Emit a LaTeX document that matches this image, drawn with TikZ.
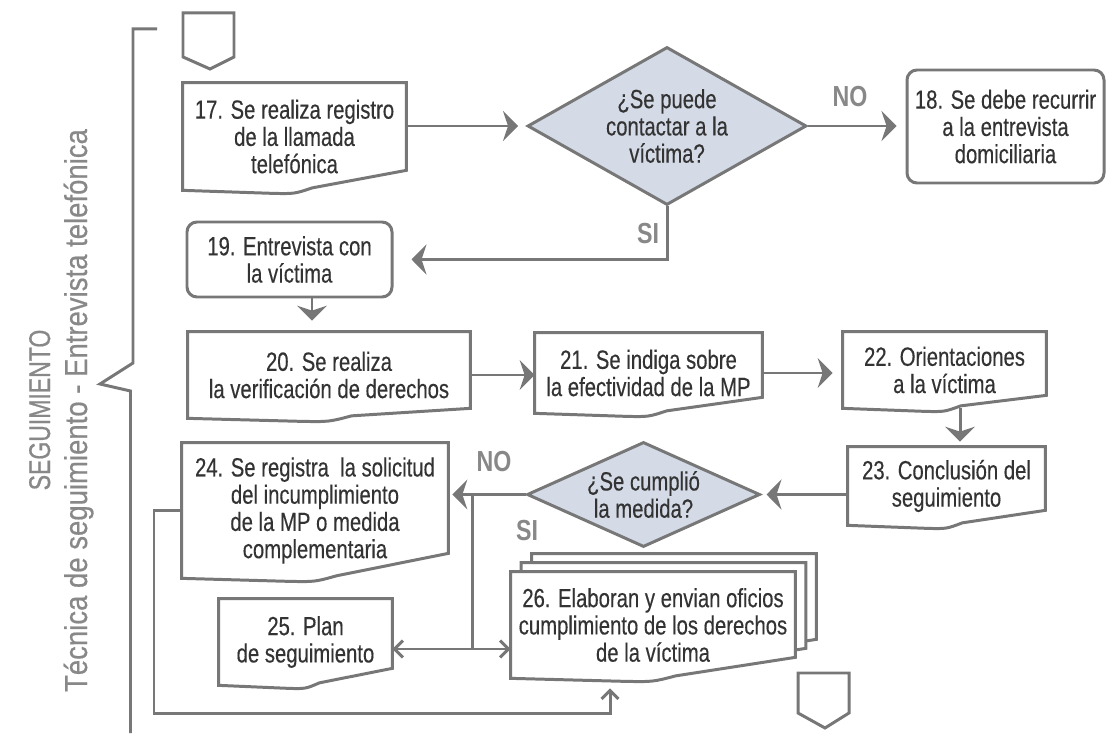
\documentclass[tikz,border=0pt]{standalone}
\usepackage{fontspec}
\setmainfont{Liberation Sans}[FakeStretch=0.77,FakeBold=0.3]
\newfontfamily\sidefont{Liberation Sans}[FakeStretch=0.87,FakeBold=0.5]
\newfontfamily\headfont{Liberation Sans}[FakeStretch=0.77,FakeBold=0.6]
\newfontfamily\markfont{Liberation Sans Bold}[FakeStretch=0.8]
\usetikzlibrary{shapes.geometric,arrows.meta,calc,backgrounds}
\definecolor{linegray}{HTML}{777777}
\definecolor{textgray}{HTML}{333333}
\definecolor{labelgray}{HTML}{888888}
\definecolor{diafill}{HTML}{D4DBE7}
\tikzset{
  boxline/.style={draw=linegray,line width=1.7pt},
  txt/.style={text=textgray,font=\fontsize{15}{15.5}\selectfont,align=center,inner sep=0pt},
  docbox/.style={txt},
  roundbox/.style={txt,boxline,rounded corners=0.2cm,fill=white},
  decision/.style={txt,boxline,shape=diamond,fill=diafill},
  side/.style={rotate=90,anchor=base,text=labelgray,inner sep=0pt},
  lbl/.style={text=labelgray,font={\markfont\fontsize{16.5}{16.5}\selectfont},inner sep=0pt},
  arr/.style={boxline,-{Stealth[length=0.3cm,width=0.6cm,inset=0.1cm]}},
  thinarr/.style={boxline,-{Straight Barb[length=0.17cm,width=0.34cm]}}
}
% document outline: node, rise of right corner, offset
\newcommand{\docshape}[3]{%
  \draw[boxline,fill=white] ($(#1.north west)+#3$) -- ($(#1.north east)+#3$)
    -- ($(#1.south east)+(0,#2)+#3$)
    -- ($(#1.south west)!0.58!(#1.south east)+(0,0.05)+#3$)
    .. controls ($(#1.south west)!0.5!(#1.south east)+(0,-0.07)+#3$) .. ($(#1.south west)!0.40!(#1.south east)+(0,-0.06)+#3$)
    -- ($(#1.south west)+#3$) -- cycle;}
\begin{document}
\begin{tikzpicture}
\useasboundingbox (0,0) rectangle (22.18,14.66);
% side titles and brace
\node[side,font={\headfont\fontsize{17}{17}\selectfont}] (sec) at (1.0,6.46) {SEGUIMIENTO};
\node[side,font={\sidefont\fontsize{18}{18}\selectfont}] (tec) at (1.74,6.45) {Técnica de seguimiento - Entrevista telefónica};
\draw[boxline] (3.14,14.08) -- (2.66,14.08) -- (2.66,7.40) -- (2.00,6.98) -- (2.61,6.84) -- (2.61,0);
% off-page connectors
\draw[boxline,fill=white] (3.66,14.40) -- (4.68,14.40) -- (4.68,13.52) -- (4.20,13.28) -- (3.66,13.52) -- cycle;
\draw[boxline,fill=white] (15.96,1.20) -- (16.98,1.20) -- (16.98,0.40) -- (16.50,0.10) -- (15.96,0.40) -- cycle;

\node[docbox,minimum width=4.46cm,minimum height=2.14cm] (b17) at (5.89,11.93) {17. Se realiza registro\\de la llamada\\telefónica};
\node[decision,minimum width=5.58cm,minimum height=3.16cm,aspect=1.77] (d1) at (13.34,12.14) {¿Se puede\\contactar a la\\víctima?};
\node[roundbox,minimum width=3.94cm,minimum height=2.26cm] (b18) at (20.11,12.13) {18. Se debe recurrir\\a la entrevista\\domiciliaria};
\node[roundbox,minimum width=4.10cm,minimum height=1.50cm] (b19) at (5.79,9.47) {19. Entrevista con\\la víctima};
\node[docbox,minimum width=5.64cm,minimum height=1.72cm] (b20) at (6.58,7.16) {20. Se realiza\\la verificación de derechos};
\node[docbox,minimum width=4.54cm,minimum height=1.60cm] (b21) at (12.97,7.20) {21. Se indiga sobre\\la efectividad de la MP};
\node[docbox,minimum width=4.06cm,minimum height=1.52cm] (b22) at (18.89,7.26) {22. Orientaciones\\a la víctima};
\node[docbox,minimum width=3.94cm,minimum height=1.56cm] (b23) at (18.93,4.94) {23. Conclusión del\\seguimiento};
\node[decision,minimum width=4.66cm,minimum height=2.10cm,aspect=2.22] (d2) at (12.87,4.77) {¿Se cumplió\\la medida?};
\node[docbox,minimum width=5.32cm,minimum height=2.70cm] (b24) at (6.30,4.45) {24. Se registra~ la solicitud\\del incumplimiento\\de la MP o medida\\complementaria};
\node[docbox,minimum width=3.46cm,minimum height=1.72cm] (b25) at (6.11,1.82) {25. Plan\\de seguimiento};
\node[docbox,minimum width=5.68cm,minimum height=2.12cm] (b26) at (13.06,2.16) {26. Elaboran y envian oficios\\cumplimiento de los derechos\\de la víctima};

\begin{scope}[on background layer]
\docshape{b17}{0.40}{(0,0)}
\docshape{b20}{0.20}{(0,0)}
\docshape{b21}{0.32}{(0,0)}
\docshape{b22}{0.26}{(0,0)}
\docshape{b23}{0.30}{(0,0)}
\docshape{b24}{0.50}{(0,0)}
\docshape{b25}{0.34}{(0,0)}
\docshape{b26}{0.42}{(0.42,0.36)} % stacked sheets
\docshape{b26}{0.42}{(0.21,0.18)}
\docshape{b26}{0.42}{(0,0)}
\end{scope}

\node[lbl] (no1) at (17.0,12.72) {NO};
\node[lbl] (si1) at (12.96,9.98) {SI};
\node[lbl] (no2) at (9.88,5.42) {NO};
\node[lbl] (si2) at (10.54,4.04) {SI};

\coordinate (j1) at (9.44,4.77);
\coordinate (j2) at (9.44,1.68);
\coordinate (c1) at (3.08,0.40);

\draw[arr,shorten >=0.16cm] (b17.east |- d1.west) -- (d1.west);
\draw[arr,shorten >=0.18cm] (d1.east) -- (d1.east -| b18.west);
\draw[arr,shorten >=0.36cm] (d1.south) |- (b19.east);
\draw[arr,shorten >=0.22cm] ([xshift=0.45cm]b19.south) -- ([xshift=0.45cm]b19.south |- b20.north);
\draw[arr] (b20.east) -- (b20.east -| b21.west);
\draw[arr,shorten >=0.2cm] (b21.east) -- (b21.east -| b22.west);
\draw[arr,shorten >=0.1cm] ([xshift=0.31cm]b22.south) -- ([xshift=0.31cm]b22.south |- b23.north);
\draw[arr,shorten >=0.1cm] (b23.west |- d2.east) -- (d2.east);
\draw[arr,shorten >=0.08cm] (d2.west) -- (d2.west -| b24.east);
\draw[boxline] (j1) -- (j2);
\draw[thinarr] (j2) -- (j2 -| b25.east);
\draw[thinarr] (j2) -- (j2 -| b26.west);
\draw[thinarr,shorten >=0.2cm] (b24.west) -| (c1) -| ([xshift=-0.86cm]b26.south);
\end{tikzpicture}
\end{document}
